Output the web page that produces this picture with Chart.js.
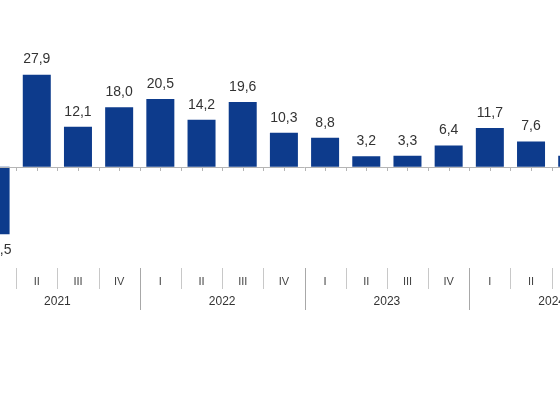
<!DOCTYPE html>
<html>
<head>
<meta charset="utf-8">
<script src="https://cdn.jsdelivr.net/npm/chart.js@4"></script>
<style>
  html, body { margin: 0; padding: 0; background: #fff; overflow: hidden; }
  #wrap { position: relative; width: 560px; height: 398px; overflow: hidden; }
  #chart { position: absolute; left: -25px; top: 0; }
</style>
</head>
<body>
<div id="wrap"><canvas id="chart" width="659" height="398"></canvas></div>
<script>
// quarters, 2021 I .. 2024 IV
var quarters = ["I", "II", "III", "IV", "I", "II", "III", "IV", "I", "II", "III", "IV", "I", "II", "III", "IV"];
var years = ["2021", "2022", "2023", "2024"];
var growth = [-20.5, 27.9, 12.1, 18.0, 20.5, 14.2, 19.6, 10.3, 8.8, 3.2, 3.3, 6.4, 11.7, 7.6, 3.3, null];

var labels = quarters.map(function (q, i) { return years[Math.floor(i / 4)] + " " + q; });

function fmt(v) {
  return v.toFixed(1).replace(".", ",");
}

// zero line, value labels, quarter labels, separators, years
var decor = {
  id: "decor",
  afterDatasetsDraw: function (chart) {
    var ctx = chart.ctx;
    var x = chart.scales.x;
    var y = chart.scales.y;
    var y0 = y.getPixelForValue(0);
    var step = x.getPixelForValue(1) - x.getPixelForValue(0);
    var n = quarters.length;

    ctx.save();
    // axis line with small ticks
    ctx.strokeStyle = "#b5b5b5";
    ctx.lineWidth = 1;
    ctx.beginPath();
    ctx.moveTo(x.getPixelForValue(0) - step / 2, Math.round(y0) + 0.5);
    ctx.lineTo(x.getPixelForValue(n - 1) + step / 2, Math.round(y0) + 0.5);
    for (var k = 0; k <= n * 2; k++) {
      var tx = Math.round(x.getPixelForValue(0) - step / 2 + k * step / 2) + 0.5;
      ctx.moveTo(tx, Math.round(y0) + 0.5);
      ctx.lineTo(tx, Math.round(y0) + 4);
    }
    ctx.stroke();

    // value labels
    ctx.fillStyle = "#333";
    ctx.font = "14px 'Liberation Sans', Arial, sans-serif";
    ctx.textAlign = "center";
    ctx.textBaseline = "middle";
    growth.forEach(function (v, i) {
      if (v === null) return;
      var px = x.getPixelForValue(i);
      var py = y.getPixelForValue(v);
      ctx.fillText(fmt(v), px, v >= 0 ? py - 15 : py + 16);
    });

    // quarter labels and separators
    ctx.font = "11px 'Liberation Sans', Arial, sans-serif";
    ctx.fillStyle = "#444";
    quarters.forEach(function (q, i) {
      ctx.fillText(q, x.getPixelForValue(i), 282);
    });
    ctx.lineWidth = 1;
    for (var i = 0; i <= n; i++) {
      var sx = Math.round(x.getPixelForValue(i) - step / 2) + 0.5;
      var yearEdge = i % 4 === 0;
      ctx.strokeStyle = yearEdge ? "#a8a8a8" : "#c8c8c8";
      ctx.beginPath();
      ctx.moveTo(sx, 268);
      ctx.lineTo(sx, yearEdge ? 310 : 289);
      ctx.stroke();
    }

    // years
    ctx.font = "12px 'Liberation Sans', Arial, sans-serif";
    ctx.fillStyle = "#333";
    years.forEach(function (yr, j) {
      var cx = (x.getPixelForValue(j * 4) + x.getPixelForValue(j * 4 + 3)) / 2;
      ctx.fillText(yr, cx, 302);
    });
    ctx.restore();
  }
};

new Chart(document.getElementById("chart"), {
  type: "bar",
  data: {
    labels: labels,
    datasets: [{
      data: growth,
      backgroundColor: "#0d3b8c",
      borderWidth: 0,
      barPercentage: 0.68,
      categoryPercentage: 1.0
    }]
  },
  options: {
    responsive: false,
    animation: false,
    layout: { padding: { top: 34.7, bottom: 132.3, left: 0, right: 0 } },
    plugins: { legend: { display: false }, tooltip: { enabled: false } },
    scales: {
      x: { display: false },
      y: { display: false, min: -30, max: 40 }
    }
  },
  plugins: [decor]
});
</script>
</body>
</html>
